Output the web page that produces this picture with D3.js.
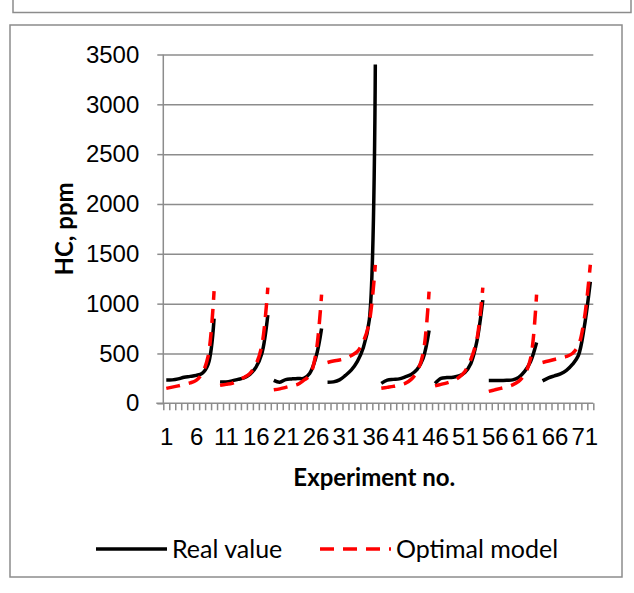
<!DOCTYPE html>
<html lang="en">
<head>
<meta charset="UTF-8">
<title>HC, ppm</title>
<style>
html, body { margin: 0; padding: 0; background: #fff; }
svg { display: block; font-family: Lato, "Open Sans", sans-serif; }
.frame { fill: none; stroke: #8c8c8c; stroke-width: 1.5; }
.grid line { stroke: #8c8c8c; stroke-width: 1.5; }
.grid path { display: none; }
.axis path, .axis line { stroke: #8c8c8c; stroke-width: 1.5; }
.axis text { fill: #000; font-size: 24px; }
.real { fill: none; stroke: #000; stroke-width: 3.5; }
.optimal { fill: none; stroke: #ff0000; stroke-width: 3.5; stroke-dasharray: 14 9; }
.title { font-weight: bold; font-size: 24px; }
.legend text { font-size: 25px; }
</style>
</head>
<body>
<div id="graph"></div>
<script src="https://d3js.org/d3.v7.min.js"></script>
<script>

// experiments 1..72, in 8 runs of 9 points
const groupSize = 9;
const realValue = [
    [233, 235, 245, 262, 270, 280, 300, 390, 850],
    [215, 215, 225, 240, 255, 290, 360, 500, 885],
    [230, 212, 238, 245, 250, 250, 300, 450, 750],
    [210, 215, 235, 280, 335, 420, 560, 840, 3400],
    [200, 232, 240, 245, 265, 290, 340, 450, 730],
    [200, 250, 258, 262, 275, 310, 400, 620, 1035],
    [230, 230, 230, 232, 235, 260, 320, 420, 610],
    [225, 255, 275, 295, 330, 390, 480, 770, 1220]
];
const optimalModel = [
    [150, 162, 175, 190, 205, 230, 300, 470, 1125],
    [180, 190, 200, 230, 260, 300, 390, 580, 1160],
    [135, 145, 160, 175, 190, 230, 280, 480, 1090],
    [410, 425, 435, 450, 480, 520, 620, 820, 1390],
    [150, 160, 170, 185, 200, 240, 320, 500, 1120],
    [175, 190, 205, 225, 260, 320, 440, 640, 1160],
    [120, 135, 150, 165, 185, 220, 290, 450, 1090],
    [410, 425, 440, 455, 470, 500, 580, 850, 1390]
];
const xTickLabels = [1, 6, 11, 16, 21, 26, 31, 36, 41, 46, 51, 56, 61, 66, 71];
const yTicks = [0, 500, 1000, 1500, 2000, 2500, 3000, 3500];
const seriesNames = ["Real value", "Optimal model"];

const width = 634, height = 593;
const margin = { top: 54.5, left: 163.3, bottom: 189.7, right: 40.7 };
const chartWidth = width - margin.left - margin.right;
const chartHeight = height - margin.top - margin.bottom;

const svg = d3.select("#graph").append("svg")
    .attr("width", width)
    .attr("height", height);

// frames
svg.append("rect").attr("class", "frame")
    .attr("x", 13).attr("y", -5).attr("width", 618).attr("height", 17.5);
svg.append("rect").attr("class", "frame")
    .attr("x", 10).attr("y", 25).attr("width", 612).attr("height", 552);

const chartLayer = svg.append("g")
    .attr("transform", `translate(${margin.left}, ${margin.top})`);

const nCat = realValue.length * groupSize;
const xScale = d3.scaleLinear().domain([0.5, nCat + 0.5]).range([0, chartWidth]);
const yScale = d3.scaleLinear().domain([0, 3500]).range([chartHeight, 0]);

// gridlines
chartLayer.append("g").attr("class", "grid")
    .call(d3.axisLeft(yScale).tickValues(yTicks.slice(1)).tickSize(-chartWidth).tickFormat(""));

// y axis
chartLayer.append("g").attr("class", "axis y")
    .call(d3.axisLeft(yScale).tickValues(yTicks).tickFormat(d3.format("d"))
        .tickSize(6).tickSizeOuter(0).tickPadding(18))
    .call(g => g.select(".domain").attr("d", `M0,${chartHeight}V0`));

// x axis minor ticks at category edges
chartLayer.append("g").attr("class", "axis x")
    .attr("transform", `translate(0, ${chartHeight})`)
    .call(d3.axisBottom(xScale).tickValues(d3.range(0.5, nCat + 1, 1)).tickSize(7).tickFormat(""))
    .call(g => g.select(".domain").attr("d", `M-7,0H${chartWidth}`));

// x axis labels
chartLayer.append("g").attr("class", "axis xl")
    .attr("transform", `translate(0, ${chartHeight})`)
    .call(d3.axisBottom(xScale).tickValues(xTickLabels).tickSize(0).tickPadding(25))
    .call(g => g.select(".domain").remove());

// axis titles
svg.append("text").attr("class", "title")
    .attr("text-anchor", "middle")
    .attr("transform", `translate(73, ${margin.top + chartHeight / 2}) rotate(-90)`)
    .text("HC, ppm");
svg.append("text").attr("class", "title")
    .attr("text-anchor", "middle")
    .attr("x", margin.left + chartWidth / 2 - 4)
    .attr("y", 486)
    .text("Experiment no.");

// lines
const lineGen = d3.line()
    .x(d => xScale(d.x))
    .y(d => yScale(d.v))
    .curve(d3.curveCatmullRom.alpha(0.5));

function toPoints(groups) {
    return groups.map((vals, g) => vals.map((v, i) => ({ x: g * groupSize + i + 1, v: v })));
}

chartLayer.selectAll(".real")
    .data(toPoints(realValue))
    .enter().append("path")
    .attr("class", "real")
    .attr("d", lineGen);

chartLayer.selectAll(".optimal")
    .data(toPoints(optimalModel))
    .enter().append("path")
    .attr("class", "optimal")
    .attr("d", lineGen);

// legend
const legend = svg.append("g").attr("class", "legend");
const legendItems = [
    { name: seriesNames[0], cls: "real", x: 96 },
    { name: seriesNames[1], cls: "optimal", x: 320 }
];
legendItems.forEach(item => {
    legend.append("line").attr("class", item.cls)
        .attr("x1", item.x).attr("x2", item.x + 71)
        .attr("y1", 549).attr("y2", 549);
    legend.append("text")
        .attr("x", item.x + 76).attr("y", 558)
        .text(item.name);
});

</script>
</body>
</html>
